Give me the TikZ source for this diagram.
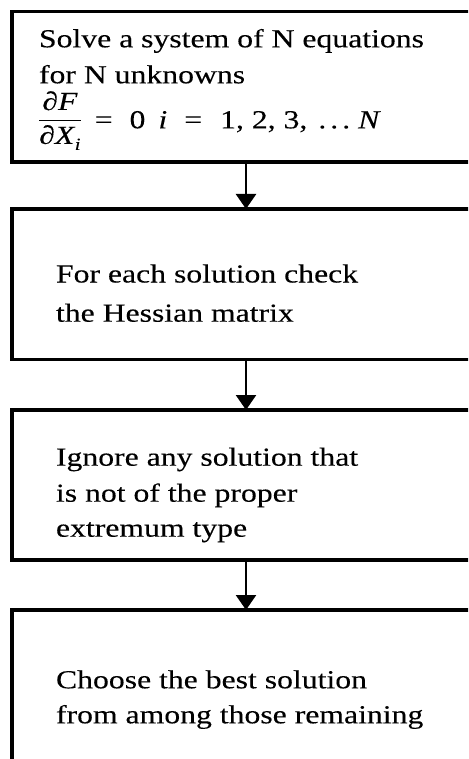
\documentclass[tikz,border=0pt]{standalone}
\usepackage{fontspec}
\setmainfont[FakeStretch=1.22,FakeBold=0.2]{Liberation Serif}
\usetikzlibrary{arrows.meta}

\begin{document}
\begin{tikzpicture}[x=1pt,y=-1pt,
  box/.style={draw, line width=3.5pt, rectangle, inner sep=0pt, outer sep=0pt,
              anchor=north west, minimum width=468pt},
  flow/.style={line width=2.5pt, -{Triangle[width=20pt,length=15pt]}},
  txt/.style={anchor=base west, inner sep=0pt, outer sep=0pt,
              font=\fontsize{26}{36}\selectfont}
]
\useasboundingbox (0,0) rectangle (468,759);
\clip (0,0) rectangle (468,759);

% the four process boxes (right side and last bottom run off the sheet)
\node[box, minimum height=150.5pt] (b1) at (12,11.5) {};
\node[box, minimum height=150.5pt] (b2) at (12,209) {};
\node[box, minimum height=150pt]   (b3) at (12,410) {};
\node[box, minimum height=175pt]   (b4) at (12,610) {};

% connectors
\draw[flow] (b1.south) -- (b2.north);
\draw[flow] (b2.south) -- (b3.north);
\draw[flow] (b3.south) -- (b4.north);

% box 1
\node[txt] (t1a) at (39,47.3) {Solve a system of N equations};
\node[txt] (t1b) at (39,83.3) {for N unknowns};
\node[txt] (t1c) at (38,128.3) {\raisebox{1.5pt}{$\displaystyle\frac{\mbox{\itshape ∂F}}{\mbox{\itshape ∂X\kern0.5pt\raisebox{-6pt}{\fontsize{17}{17}\selectfont i}}}$}\hspace{13pt}=\hspace{17pt}0\hspace{13pt}\textit{i}\hspace{17pt}=\hspace{18pt}1, 2, 3,\hspace{11pt}.\hspace{4pt}.\hspace{4pt}.\hspace{8pt}\textit{N}};

% box 2
\node[txt] (t2a) at (56,282.5) {For each solution check};
\node[txt] (t2b) at (56,321.7) {the Hessian matrix};

% box 3
\node[txt] (t3a) at (56,465.7) {Ignore any solution that};
\node[txt] (t3b) at (56,501.7) {is not of the proper};
\node[txt] (t3c) at (56,536.7) {extremum type};

% box 4
\node[txt] (t4a) at (56,688.3) {Choose the best solution};
\node[txt] (t4b) at (56,723.3) {from among those remaining};
\end{tikzpicture}
\end{document}
